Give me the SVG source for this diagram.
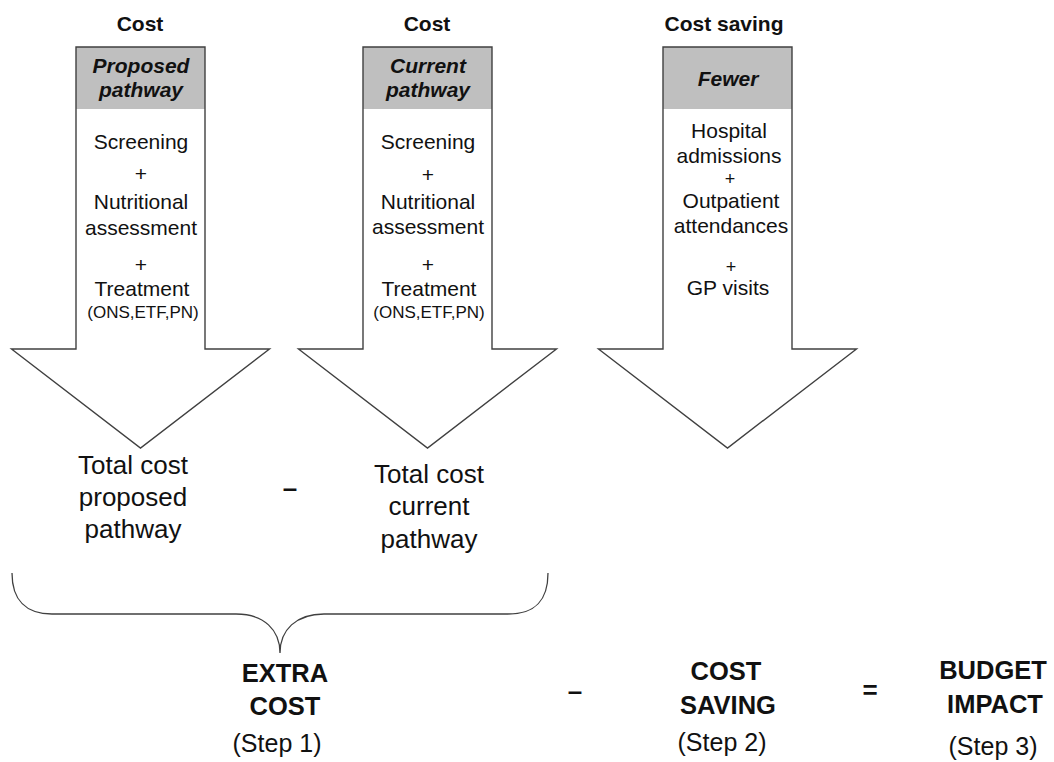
<svg xmlns="http://www.w3.org/2000/svg" xmlns:xlink="http://www.w3.org/1999/xlink" width="1054" height="762" viewBox="0 0 1054 762">
<style>
text{font-family:"Liberation Sans",Arial,sans-serif;fill:#111;text-anchor:middle}
.top{font-size:21px;font-weight:bold}
.hdr{font-size:21px;font-weight:bold;font-style:italic}
.body{font-size:21px}
.plus{font-size:18px}
.small{font-size:17px}
.tot{font-size:26px}
.big{font-size:25.5px;font-weight:bold}
.step{font-size:25px}
.op{font-size:26px;font-weight:bold}
.fillw{fill:#fff;stroke:none}
.outline{fill:none;stroke:#404040;stroke-width:1.4}
.hdrbg{fill:#bfbfbf}
.conn{fill:none;stroke:#404040;stroke-width:1.3}
</style>
<defs>
<path id="arrow" d="M-64.5,0 H64.5 V302 H129 L0,401 L-129,302 H-64.5 Z"/>
</defs>
<rect width="1054" height="762" fill="#fff"/>

<g id="arrow-proposed" transform="translate(140.5,47)">
<use xlink:href="#arrow" class="fillw"/>
<rect class="hdrbg" x="-64.5" y="0" width="129" height="62"/>
<use xlink:href="#arrow" class="outline"/>
</g>
<g id="arrow-current" transform="translate(427.5,47)">
<use xlink:href="#arrow" class="fillw"/>
<rect class="hdrbg" x="-64.5" y="0" width="129" height="62"/>
<use xlink:href="#arrow" class="outline"/>
</g>
<g id="arrow-fewer" transform="translate(727.5,47)">
<use xlink:href="#arrow" class="fillw"/>
<rect class="hdrbg" x="-64.5" y="0" width="129" height="62"/>
<use xlink:href="#arrow" class="outline"/>
</g>

<g id="labels-proposed">
<text class="top" x="140" y="31">Cost</text>
<text class="hdr" x="141" y="73">Proposed</text>
<text class="hdr" x="141" y="97">pathway</text>
<text class="body" x="141" y="149">Screening</text>
<text class="body" x="141" y="181">+</text>
<text class="body" x="141" y="209">Nutritional</text>
<text class="body" x="141" y="235">assessment</text>
<text class="body" x="141" y="272">+</text>
<text class="body" x="142" y="296">Treatment</text>
<text class="small" x="143" y="318">(ONS,ETF,PN)</text>
</g>

<g id="labels-current">
<text class="top" x="427" y="31">Cost</text>
<text class="hdr" x="428" y="73">Current</text>
<text class="hdr" x="428" y="97">pathway</text>
<text class="body" x="428" y="149">Screening</text>
<text class="body" x="428" y="182">+</text>
<text class="body" x="428" y="209">Nutritional</text>
<text class="body" x="428" y="234">assessment</text>
<text class="body" x="428" y="272">+</text>
<text class="body" x="429" y="296">Treatment</text>
<text class="small" x="429" y="318">(ONS,ETF,PN)</text>
</g>

<g id="labels-fewer">
<text class="top" x="724" y="31">Cost saving</text>
<text class="hdr" x="728" y="86">Fewer</text>
<text class="body" x="729" y="138">Hospital</text>
<text class="body" x="729" y="163">admissions</text>
<text class="plus" x="730" y="185">+</text>
<text class="body" x="731" y="208">Outpatient</text>
<text class="body" x="731" y="233">attendances</text>
<text class="plus" x="731" y="273">+</text>
<text class="body" x="728" y="295">GP visits</text>
</g>

<g id="total-proposed">
<text class="tot" x="133" y="474">Total cost</text>
<text class="tot" x="133" y="506">proposed</text>
<text class="tot" x="133" y="538">pathway</text>
</g>
<text class="op" x="290" y="497">–</text>
<g id="total-current">
<text class="tot" x="429" y="483">Total cost</text>
<text class="tot" x="429" y="515">current</text>
<text class="tot" x="429" y="548">pathway</text>
</g>

<g id="connectors">
<path class="conn" d="M12,573 C12,600 26,614 52,614 L236,614 C264,614 280,630 280,653 C280,630 296,614 324,614 L508,614 C536,614 548,600 548,573"/>
</g>

<g id="extra-cost">
<text class="big" x="285" y="682">EXTRA</text>
<text class="big" x="285" y="715">COST</text>
<text class="step" x="277" y="752">(Step 1)</text>
</g>
<text class="op" x="575" y="700">–</text>
<g id="cost-saving">
<text class="big" x="726" y="680">COST</text>
<text class="big" x="728" y="714">SAVING</text>
<text class="step" x="722" y="751">(Step 2)</text>
</g>
<text class="op" x="870" y="699">=</text>
<g id="budget-impact">
<text class="big" x="993" y="679">BUDGET</text>
<text class="big" x="995" y="713">IMPACT</text>
<text class="step" x="993" y="755">(Step 3)</text>
</g>
</svg>
